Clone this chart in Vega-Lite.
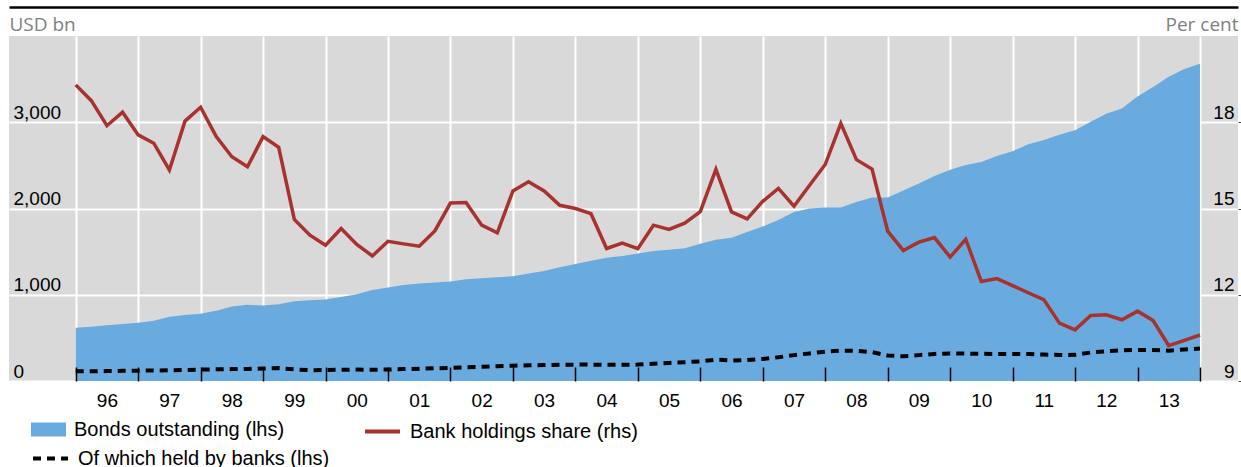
{
  "$schema": "https://vega.github.io/schema/vega-lite/v6.json",
  "width": 1229,
  "height": 345,
  "autosize": {"type": "none"},
  "padding": {"left": 9, "top": 36, "right": 3, "bottom": 86},
  "background": "white",
  "config": {"view": {"fill": "#d9d9d9", "stroke": null}, "font": "Liberation Sans"},
  "data": {"values": [
    {"t": 1996.00, "bonds": 616, "banks": 112, "share": 19.30},
    {"t": 1996.25, "bonds": 630, "banks": 112, "share": 18.75},
    {"t": 1996.50, "bonds": 645, "banks": 115, "share": 17.88},
    {"t": 1996.75, "bonds": 660, "banks": 118, "share": 18.35},
    {"t": 1997.00, "bonds": 675, "banks": 120, "share": 17.56},
    {"t": 1997.25, "bonds": 700, "banks": 122, "share": 17.27},
    {"t": 1997.50, "bonds": 745, "banks": 125, "share": 16.34},
    {"t": 1997.75, "bonds": 765, "banks": 128, "share": 18.04},
    {"t": 1998.00, "bonds": 780, "banks": 132, "share": 18.52},
    {"t": 1998.25, "bonds": 815, "banks": 135, "share": 17.50},
    {"t": 1998.50, "bonds": 864, "banks": 138, "share": 16.80},
    {"t": 1998.75, "bonds": 884, "banks": 140, "share": 16.45},
    {"t": 1999.00, "bonds": 876, "banks": 145, "share": 17.50},
    {"t": 1999.25, "bonds": 890, "banks": 150, "share": 17.13},
    {"t": 1999.50, "bonds": 926, "banks": 135, "share": 14.62},
    {"t": 1999.75, "bonds": 935, "banks": 125, "share": 14.07},
    {"t": 2000.00, "bonds": 945, "banks": 128, "share": 13.72},
    {"t": 2000.25, "bonds": 975, "banks": 130, "share": 14.30},
    {"t": 2000.50, "bonds": 1005, "banks": 132, "share": 13.75},
    {"t": 2000.75, "bonds": 1055, "banks": 131, "share": 13.35},
    {"t": 2001.00, "bonds": 1085, "banks": 133, "share": 13.86},
    {"t": 2001.25, "bonds": 1114, "banks": 138, "share": 13.77},
    {"t": 2001.50, "bonds": 1130, "banks": 142, "share": 13.69},
    {"t": 2001.75, "bonds": 1142, "banks": 147, "share": 14.22},
    {"t": 2002.00, "bonds": 1155, "banks": 152, "share": 15.19},
    {"t": 2002.25, "bonds": 1181, "banks": 160, "share": 15.21},
    {"t": 2002.50, "bonds": 1192, "banks": 165, "share": 14.42},
    {"t": 2002.75, "bonds": 1204, "banks": 172, "share": 14.15},
    {"t": 2003.00, "bonds": 1215, "banks": 178, "share": 15.61},
    {"t": 2003.25, "bonds": 1245, "banks": 182, "share": 15.93},
    {"t": 2003.50, "bonds": 1275, "banks": 185, "share": 15.61},
    {"t": 2003.75, "bonds": 1318, "banks": 188, "share": 15.11},
    {"t": 2004.00, "bonds": 1356, "banks": 190, "share": 15.00},
    {"t": 2004.25, "bonds": 1393, "banks": 190, "share": 14.82},
    {"t": 2004.50, "bonds": 1430, "banks": 188, "share": 13.61},
    {"t": 2004.75, "bonds": 1450, "banks": 188, "share": 13.80},
    {"t": 2005.00, "bonds": 1477, "banks": 190, "share": 13.60},
    {"t": 2005.25, "bonds": 1507, "banks": 200, "share": 14.42},
    {"t": 2005.50, "bonds": 1522, "banks": 210, "share": 14.27},
    {"t": 2005.75, "bonds": 1540, "banks": 218, "share": 14.49},
    {"t": 2006.00, "bonds": 1590, "banks": 228, "share": 14.89},
    {"t": 2006.25, "bonds": 1637, "banks": 248, "share": 16.36},
    {"t": 2006.50, "bonds": 1660, "banks": 236, "share": 14.88},
    {"t": 2006.75, "bonds": 1727, "banks": 242, "share": 14.64},
    {"t": 2007.00, "bonds": 1790, "banks": 256, "share": 15.25},
    {"t": 2007.25, "bonds": 1868, "banks": 275, "share": 15.70},
    {"t": 2007.50, "bonds": 1960, "banks": 300, "share": 15.08},
    {"t": 2007.75, "bonds": 2000, "banks": 320, "share": 15.81},
    {"t": 2008.00, "bonds": 2012, "banks": 340, "share": 16.53},
    {"t": 2008.25, "bonds": 2012, "banks": 352, "share": 17.96},
    {"t": 2008.50, "bonds": 2075, "banks": 350, "share": 16.70},
    {"t": 2008.75, "bonds": 2128, "banks": 335, "share": 16.37},
    {"t": 2009.00, "bonds": 2128, "banks": 296, "share": 14.21},
    {"t": 2009.25, "bonds": 2210, "banks": 286, "share": 13.54},
    {"t": 2009.50, "bonds": 2290, "banks": 300, "share": 13.83},
    {"t": 2009.75, "bonds": 2376, "banks": 314, "share": 13.99},
    {"t": 2010.00, "bonds": 2450, "banks": 320, "share": 13.31},
    {"t": 2010.25, "bonds": 2503, "banks": 318, "share": 13.93},
    {"t": 2010.50, "bonds": 2540, "banks": 315, "share": 12.46},
    {"t": 2010.75, "bonds": 2610, "banks": 314, "share": 12.56},
    {"t": 2011.00, "bonds": 2665, "banks": 314, "share": 12.32},
    {"t": 2011.25, "bonds": 2745, "banks": 312, "share": 12.07},
    {"t": 2011.50, "bonds": 2794, "banks": 306, "share": 11.83},
    {"t": 2011.75, "bonds": 2855, "banks": 302, "share": 11.01},
    {"t": 2012.00, "bonds": 2908, "banks": 303, "share": 10.78},
    {"t": 2012.25, "bonds": 3005, "banks": 330, "share": 11.28},
    {"t": 2012.50, "bonds": 3100, "banks": 345, "share": 11.30},
    {"t": 2012.75, "bonds": 3160, "banks": 355, "share": 11.13},
    {"t": 2013.00, "bonds": 3298, "banks": 360, "share": 11.43},
    {"t": 2013.25, "bonds": 3410, "banks": 358, "share": 11.10},
    {"t": 2013.50, "bonds": 3528, "banks": 352, "share": 10.23},
    {"t": 2013.75, "bonds": 3616, "banks": 365, "share": 10.41},
    {"t": 2014.00, "bonds": 3678, "banks": 376, "share": 10.60}
  ]},
  "layer": [
    {
      "mark": {"type": "area", "opacity": 1, "line": false},
      "encoding": {
        "x": {
          "field": "t", "type": "quantitative",
          "scale": {"domain": [1994.932, 2014.609], "nice": false, "zero": false},
          "axis": {
            "orient": "bottom", "title": null,
            "values": [1996, 1997, 1998, 1999, 2000, 2001, 2002, 2003, 2004, 2005, 2006, 2007, 2008, 2009, 2010, 2011, 2012, 2013, 2014],
            "grid": true, "gridColor": "white", "gridWidth": 2, "gridOpacity": 1,
            "ticks": false, "tickSize": 0, "domain": false,
            "labelExpr": "datum.value >= 2014 ? '' : slice(toString(datum.value), 2)",
            "labelOffset": 31.2, "labelPadding": 25.5, "labelBaseline": "alphabetic",
            "labelFontSize": 19, "labelColor": "black", "labelFont": "Liberation Sans",
            "labelFlush": false, "labelOverlap": false, "zindex": 0
          }
        },
        "y": {
          "field": "bonds", "type": "quantitative", "stack": null,
          "scale": {"domain": [0, 4000], "nice": false},
          "axis": {
            "orient": "left", "values": [0, 1000, 2000, 3000], "format": ",.0f",
            "grid": true, "gridColor": "white", "gridWidth": 2, "gridOpacity": 1,
            "ticks": false, "tickSize": 0, "domain": false,
            "labelAlign": "left", "labelPadding": -4, "labelBaseline": "alphabetic", "labelOffset": -4,
            "labelFontSize": 19, "labelColor": "black", "labelFont": "Liberation Sans", "labelOverlap": false,
            "title": "USD bn", "titleAngle": 0, "titleX": 0, "titleY": -6, "titleAlign": "left",
            "titleBaseline": "alphabetic", "titleFont": "Open Sans", "titleFontWeight": "normal",
            "titleFontSize": 19, "titleColor": "#7f7f7f", "zindex": 0
          }
        },
        "fill": {
          "datum": "Bonds outstanding (lhs)", "type": "nominal",
          "scale": {"domain": ["Bonds outstanding (lhs)"], "range": ["#6aabdf"]},
          "legend": {
            "title": null, "orient": "none", "legendX": 22, "legendY": 376, "padding": 0,
            "labelFontSize": 20, "labelFont": "Liberation Sans", "labelColor": "black",
            "labelOffset": 8, "labelLimit": 0,
            "symbolType": "M-1,-0.4H1V0.4H-1Z", "symbolSize": 1225, "symbolStrokeWidth": 0, "symbolOpacity": 1
          }
        }
      }
    },
    {
      "mark": {"type": "line", "strokeWidth": 3.5, "strokeJoin": "miter"},
      "encoding": {
        "x": {
          "field": "t", "type": "quantitative",
          "axis": {
            "orient": "top", "offset": 29, "title": null, "grid": false, "ticks": false,
            "labels": false, "domain": true, "domainColor": "black", "domainWidth": 2.5, "zindex": 1
          }
        },
        "y": {
          "field": "share", "type": "quantitative",
          "scale": {"domain": [9, 21], "nice": false, "zero": false},
          "axis": {
            "orient": "right", "values": [9, 12, 15, 18], "grid": false,
            "ticks": true, "tickSize": 3, "tickColor": "#444444", "tickWidth": 1, "domain": false,
            "labelAlign": "right", "labelPadding": -7, "labelBaseline": "alphabetic", "labelOffset": -4,
            "labelFontSize": 19, "labelColor": "black", "labelFont": "Liberation Sans", "labelOverlap": false,
            "title": "Per cent", "titleAngle": 0, "titleX": 0, "titleY": -6, "titleAlign": "right",
            "titleBaseline": "alphabetic", "titleFont": "Open Sans", "titleFontWeight": "normal",
            "titleFontSize": 19, "titleColor": "#7f7f7f", "zindex": 1
          }
        },
        "stroke": {
          "datum": "Bank holdings share (rhs)", "type": "nominal",
          "scale": {"domain": ["Bank holdings share (rhs)"], "range": ["#a8322d"]},
          "legend": {
            "title": null, "orient": "none", "legendX": 354, "legendY": 376, "padding": 0,
            "labelFontSize": 20, "labelFont": "Liberation Sans", "labelColor": "black",
            "labelOffset": 8, "labelLimit": 0,
            "symbolType": "stroke", "symbolSize": 1225, "symbolStrokeWidth": 4, "symbolOpacity": 1
          }
        }
      }
    },
    {
      "mark": {"type": "line", "strokeWidth": 4, "color": "#000000"},
      "encoding": {
        "x": {
          "field": "t", "type": "quantitative",
          "axis": {
            "orient": "bottom", "offset": -14, "title": null, "grid": false,
            "values": [1996, 1997, 1998, 1999, 2000, 2001, 2002, 2003, 2004, 2005, 2006, 2007, 2008, 2009, 2010, 2011, 2012, 2013, 2014],
            "ticks": true, "tickSize": 14, "tickColor": "black", "tickWidth": 1.5,
            "labels": false, "domain": false, "zindex": 1
          }
        },
        "y": {
          "field": "banks", "type": "quantitative",
          "scale": {"domain": [0, 4000], "nice": false},
          "axis": null
        },
        "strokeDash": {
          "datum": "Of which held by banks (lhs)", "type": "nominal",
          "scale": {"domain": ["Of which held by banks (lhs)"], "range": [[8, 6]]},
          "legend": {
            "title": null, "orient": "none", "legendX": 22, "legendY": 403, "padding": 0,
            "labelFontSize": 20, "labelFont": "Liberation Sans", "labelColor": "black",
            "labelOffset": 8, "labelLimit": 0,
            "symbolType": "stroke", "symbolSize": 1225, "symbolStrokeWidth": 4,
            "symbolStrokeColor": "#000000", "symbolOpacity": 1
          }
        }
      }
    }
  ],
  "resolve": {"scale": {"y": "independent"}, "axis": {"x": "independent", "y": "independent"}}
}
